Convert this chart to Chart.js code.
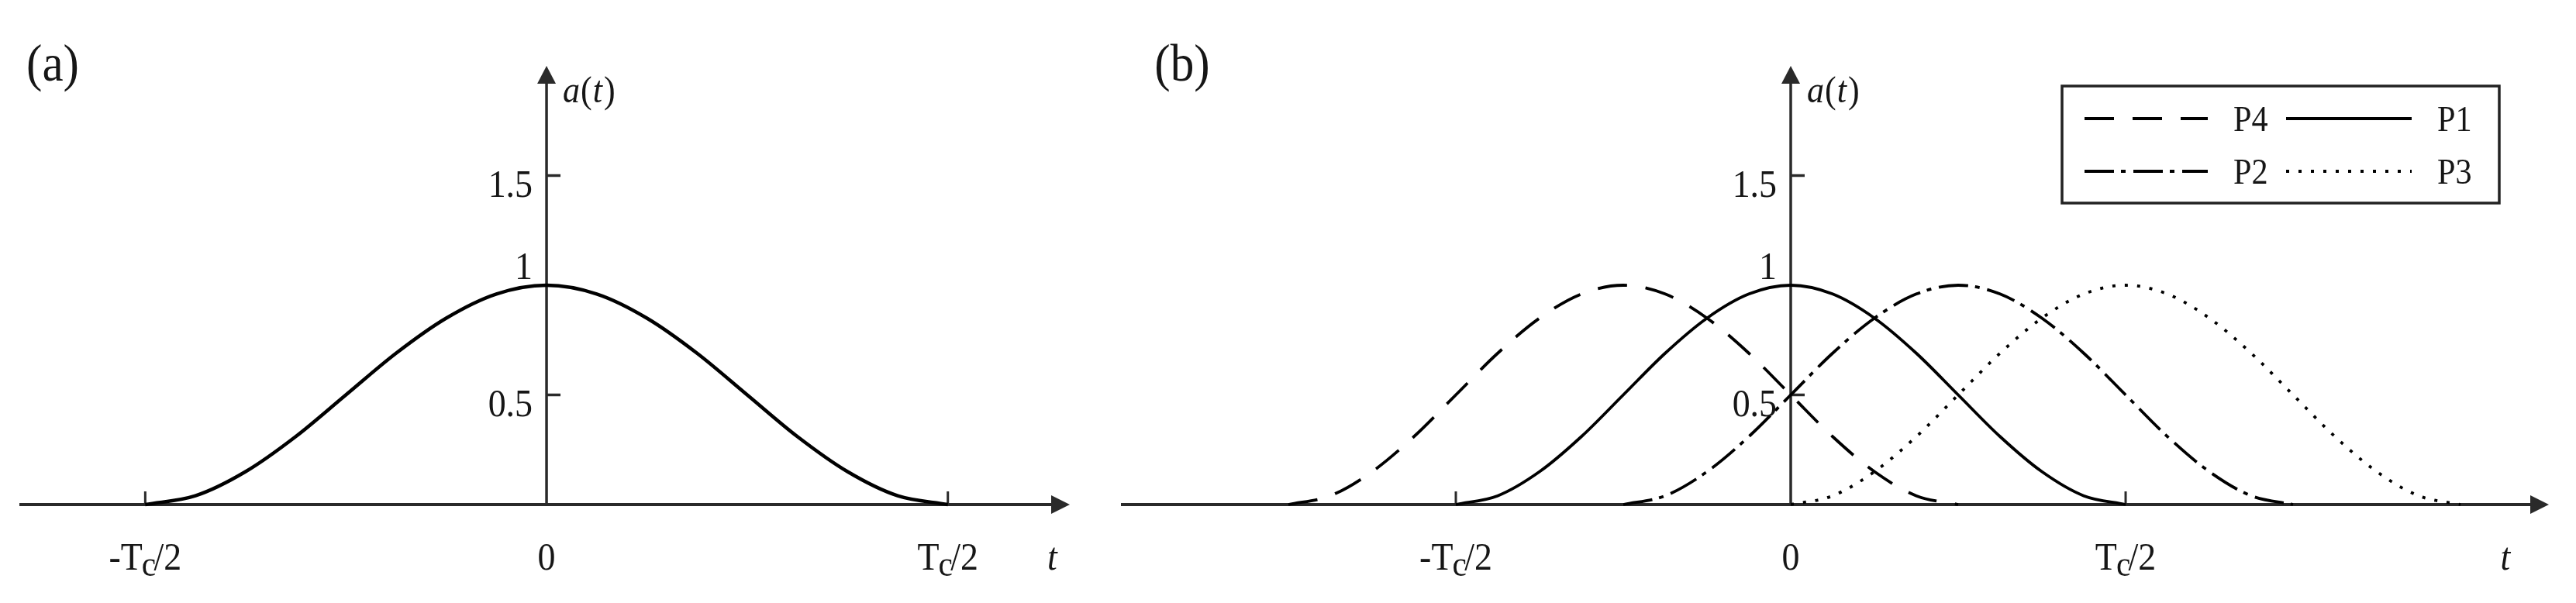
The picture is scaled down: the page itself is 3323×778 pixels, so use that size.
<!DOCTYPE html>
<html>
<head>
<meta charset="utf-8">
<script src="https://cdn.jsdelivr.net/npm/chart.js@4/dist/chart.umd.min.js"></script>
<style>
  html, body { margin: 0; padding: 0; background: #fff; }
  #wrap { position: relative; width: 3323px; height: 778px; overflow: hidden; background: #fff; }
  canvas { position: absolute; top: 0; }
  #chartA { left: 0; }
  #chartB { left: 1420px; }
</style>
</head>
<body>
<div id="wrap">
  <canvas id="chartA" width="1420" height="778"></canvas>
  <canvas id="chartB" width="1903" height="778"></canvas>
</div>
<script>
// time is in units of Tc, values are a(t)

// panel (a): single pulse
const tA = [-0.5, -0.4375, -0.375, -0.3125, -0.25, -0.1875, -0.125, -0.0625, 0,
            0.0625, 0.125, 0.1875, 0.25, 0.3125, 0.375, 0.4375, 0.5];
const pulseA = [0, 0.04, 0.15, 0.31, 0.5, 0.69, 0.85, 0.96, 1,
                0.96, 0.85, 0.69, 0.5, 0.31, 0.15, 0.04, 0];

// panel (b): four shifted pulses on one time grid
const tB = [-0.75, -0.6875, -0.625, -0.5625, -0.5, -0.4375, -0.375, -0.3125, -0.25,
            -0.1875, -0.125, -0.0625, 0, 0.0625, 0.125, 0.1875, 0.25, 0.3125, 0.375,
            0.4375, 0.5, 0.5625, 0.625, 0.6875, 0.75, 0.8125, 0.875, 0.9375, 1];
const p4 = [0, 0.04, 0.15, 0.31, 0.5, 0.69, 0.85, 0.96, 1, 0.96, 0.85, 0.69, 0.5, 0.31, 0.15, 0.04, 0,
            null, null, null, null, null, null, null, null, null, null, null, null];
const p1 = [null, null, null, null,
            0, 0.04, 0.15, 0.31, 0.5, 0.69, 0.85, 0.96, 1, 0.96, 0.85, 0.69, 0.5, 0.31, 0.15, 0.04, 0,
            null, null, null, null, null, null, null, null];
const p2 = [null, null, null, null, null, null, null, null,
            0, 0.04, 0.15, 0.31, 0.5, 0.69, 0.85, 0.96, 1, 0.96, 0.85, 0.69, 0.5, 0.31, 0.15, 0.04, 0,
            null, null, null, null];
const p3 = [null, null, null, null, null, null, null, null, null, null, null, null,
            0, 0.04, 0.15, 0.31, 0.5, 0.69, 0.85, 0.96, 1, 0.96, 0.85, 0.69, 0.5, 0.31, 0.15, 0.04, 0];

const seriesNames = ['P4', 'P1', 'P2', 'P3'];

// axis ticks and labels
const yTickMarks = [0.5, 1.5];
const yTickValues = [0.5, 1, 1.5];
const yTickLabels = ['0.5', '1', '1.5'];
const xTickMarks = [-0.5, 0.5];
const xTickValues = [-0.5, 0, 0.5];
const xTickLabels = ['-T_c/2', '0', 'T_c/2'];

const AXIS = '#2a2a2a';
const INK = '#161616';
const SERIF = '"Liberation Serif", "Times New Roman", serif';
const SX = 0.9;

function pts(ts, vs) {
    return ts.map((t, i) => ({x: t, y: vs[i]}));
}

function text(ctx, s, x, y, font, align) {
    ctx.save();
    ctx.font = font;
    ctx.textBaseline = 'alphabetic';
    ctx.textAlign = 'left';
    const w = ctx.measureText(s).width * SX;
    let left = x;
    if (align === 'center') left = x - w / 2;
    if (align === 'right') left = x - w;
    ctx.translate(left, y);
    ctx.scale(SX, 1);
    ctx.fillText(s, 0, 0);
    ctx.restore();
    return w;
}

// label like "T_c/2": the char after "_" is a subscript
function tickLabel(ctx, label, cx, baseline) {
    const parts = label.split('_');
    if (parts.length === 1) {
        text(ctx, label, cx, baseline, '51px ' + SERIF, 'center');
        return;
    }
    const head = parts[0], sub = parts[1][0], rest = parts[1].slice(1);
    ctx.save();
    ctx.font = '51px ' + SERIF;
    const w1 = ctx.measureText(head).width;
    const w3 = ctx.measureText(rest).width;
    ctx.font = '46px ' + SERIF;
    const w2 = ctx.measureText(sub).width;
    const total = (w1 + w2 - 4 + w3) * SX;
    ctx.translate(cx - total / 2, baseline);
    ctx.scale(SX, 1);
    ctx.textBaseline = 'alphabetic';
    ctx.font = '51px ' + SERIF;
    ctx.fillText(head, 0, 0);
    ctx.font = '46px ' + SERIF;
    ctx.fillText(sub, w1 - 1, 8);
    ctx.font = '51px ' + SERIF;
    ctx.fillText(rest, w1 + w2 - 4, 0);
    ctx.restore();
}

function seg(ctx, x1, y1, x2, y2) {
    ctx.beginPath();
    ctx.moveTo(x1, y1);
    ctx.lineTo(x2, y2);
    ctx.stroke();
}

const axesDeco = {
    id: 'axesDeco',
    beforeDatasetsDraw(chart, args, opts) {
        const {ctx, chartArea: ca, scales: {x, y}} = chart;
        const x0 = x.getPixelForValue(0);
        const y0 = y.getPixelForValue(0);
        ctx.save();
        ctx.strokeStyle = AXIS;
        ctx.fillStyle = AXIS;
        ctx.lineWidth = 4;
        // t axis + arrow
        seg(ctx, ca.left, y0, ca.right - 20, y0);
        ctx.beginPath();
        ctx.moveTo(ca.right, y0);
        ctx.lineTo(ca.right - 24, y0 - 12);
        ctx.lineTo(ca.right - 24, y0 + 12);
        ctx.closePath();
        ctx.fill();
        // a(t) axis + arrow
        ctx.lineWidth = 3.5;
        seg(ctx, x0, y0, x0, ca.top + 20);
        ctx.beginPath();
        ctx.moveTo(x0, ca.top);
        ctx.lineTo(x0 - 12, ca.top + 23);
        ctx.lineTo(x0 + 12, ca.top + 23);
        ctx.closePath();
        ctx.fill();
        // tick marks
        yTickMarks.forEach(v => {
            const py = y.getPixelForValue(v);
            seg(ctx, x0, py, x0 + 18, py);
        });
        ctx.lineWidth = 3;
        xTickMarks.forEach(v => {
            const px = x.getPixelForValue(v);
            seg(ctx, px, y0, px, y0 - 17);
        });
        ctx.restore();
    },
    afterDraw(chart, args, opts) {
        const {ctx, scales: {x, y}} = chart;
        const x0 = x.getPixelForValue(0);
        ctx.save();
        ctx.fillStyle = INK;
        // y tick labels (the "1" has no tick and sits above the peak)
        yTickValues.forEach((v, i) => {
            const py = y.getPixelForValue(v);
            const dy = yTickMarks.includes(v) ? 27 : -8;
            text(ctx, yTickLabels[i], x0 - 18, py + dy, '51px ' + SERIF, 'right');
        });
        // t tick labels
        xTickValues.forEach((v, i) => {
            tickLabel(ctx, xTickLabels[i], x.getPixelForValue(v), 735);
        });
        // axis names
        text(ctx, 't', x.getPixelForValue(opts.tAt), 735, 'italic 51px ' + SERIF, 'center');
        let ax = x0 + 21;
        ax += text(ctx, 'a', ax, 132, 'italic 49px ' + SERIF, 'left');
        ax += text(ctx, '(', ax + 1, 132, '49px ' + SERIF, 'left') + 1;
        ax += text(ctx, 't', ax + 1, 132, 'italic 49px ' + SERIF, 'left') + 2;
        text(ctx, ')', ax + 1, 132, '49px ' + SERIF, 'left');
        // panel tag
        text(ctx, opts.tag, opts.tagX, 104, '68px ' + SERIF, 'center');

        if (opts.legend) drawLegend(chart, opts.legend);
        ctx.restore();
    }
};

function drawLegend(chart, lg) {
    const ctx = chart.ctx;
    ctx.save();
    ctx.strokeStyle = '#222';
    ctx.lineWidth = 3.5;
    ctx.strokeRect(lg.left, lg.top, lg.right - lg.left, lg.bottom - lg.top);
    const cols = [{l0: lg.left + 29, l1: lg.left + 188, tx: lg.left + 221},
                  {l0: lg.left + 289, l1: lg.left + 451, tx: lg.left + 484}];
    const rows = [153, 221];
    seriesNames.forEach((name, i) => {
        const ds = chart.data.datasets.find(d => d.label === name);
        const c = cols[i % 2], r = rows[Math.floor(i / 2)];
        ctx.strokeStyle = ds.borderColor;
        ctx.lineWidth = ds.borderWidth;
        ctx.setLineDash(ds.borderDash || []);
        seg(ctx, c.l0, r, c.l1, r);
        ctx.setLineDash([]);
        ctx.fillStyle = INK;
        text(ctx, name, c.tx, r + 16, '47px ' + SERIF, 'left');
    });
    ctx.restore();
}

function lineDs(label, data, width, dash) {
    return {
        label: label,
        data: data,
        borderColor: '#000',
        borderWidth: width,
        borderDash: dash,
        pointRadius: 0,
        fill: false,
        spanGaps: false,
        clip: false,
        cubicInterpolationMode: 'monotone'
    };
}

function baseOptions(xMin, xMax, padding, deco) {
    return {
        responsive: false,
        animation: false,
        events: [],
        layout: {padding: padding},
        scales: {
            x: {type: 'linear', min: xMin, max: xMax, display: false},
            y: {type: 'linear', min: 0, max: 2, display: false}
        },
        plugins: {
            legend: {display: false},
            tooltip: {enabled: false},
            axesDeco: deco
        }
    };
}

new Chart(document.getElementById('chartA'), {
    type: 'line',
    data: {datasets: [lineDs('a', pts(tA, pulseA), 4.5, [])]},
    options: baseOptions(-0.6568, 0.6519,
        {left: 25, right: 40, top: 85, bottom: 127},
        {tAt: 0.63, tag: '(a)', tagX: 68}),
    plugins: [axesDeco]
});

new Chart(document.getElementById('chartB'), {
    type: 'line',
    data: {
        datasets: [
            lineDs('P4', pts(tB, p4), 3.8, [38, 24]),
            lineDs('P1', pts(tB, p1), 3.8, []),
            lineDs('P2', pts(tB, p2), 3.8, [38, 9, 6, 10]),
            lineDs('P3', pts(tB, p3), 3.8, [4, 12])
        ]
    },
    options: baseOptions(-1.0, 1.1319,
        {left: 26, right: 35, top: 85, bottom: 127},
        {tAt: 1.067, tag: '(b)', tagX: 105,
         legend: {left: 1240, right: 1804, top: 111, bottom: 262}}),
    plugins: [axesDeco]
});
</script>
</body>
</html>
